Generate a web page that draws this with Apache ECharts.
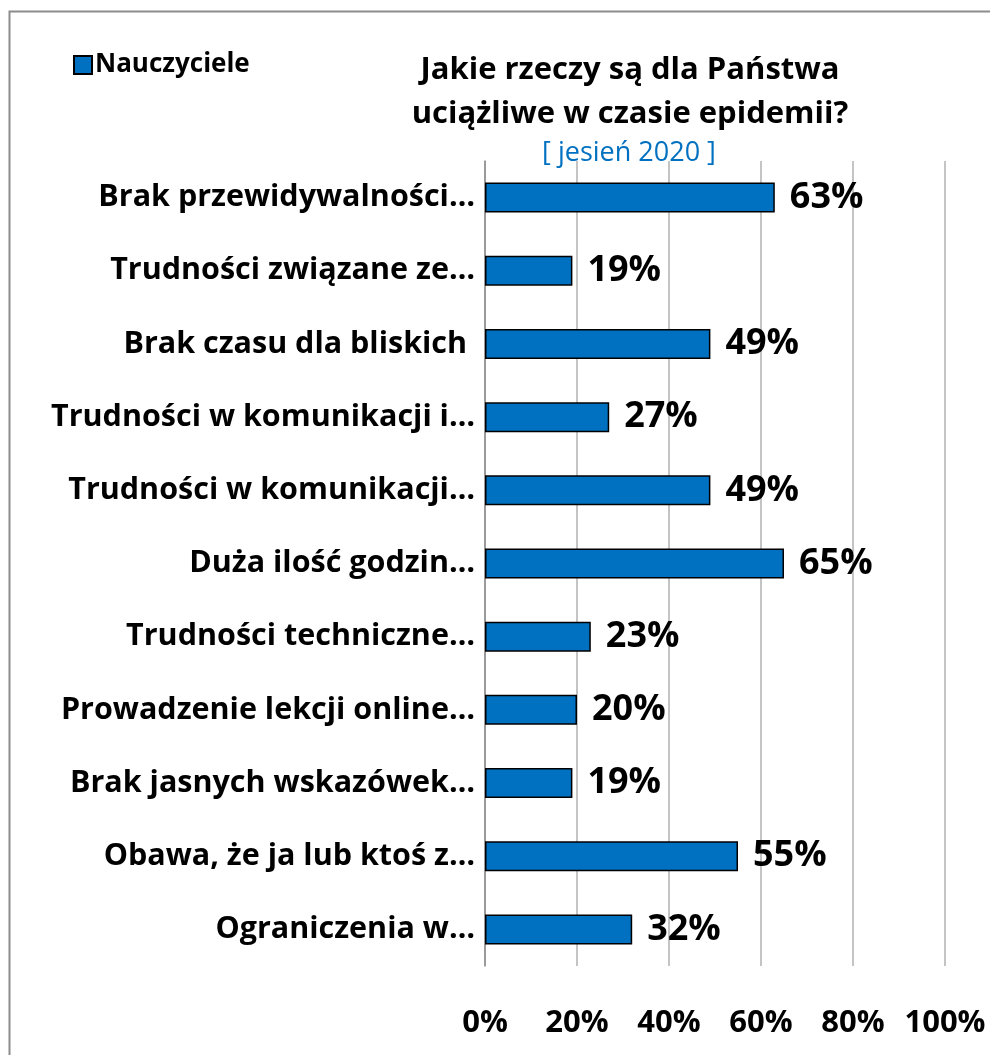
<!DOCTYPE html>
<html>
<head>
<meta charset="utf-8">
<script src="https://cdn.jsdelivr.net/npm/echarts@6/dist/echarts.min.js"></script>
<style>
  html, body { margin: 0; padding: 0; background: #fff; }
  #main { width: 990px; height: 1055px; }
</style>
</head>
<body>
<div id="main"></div>
<script>
// dane z wykresu (od góry do dołu)
var categories = [
  'Brak przewidywalności…',
  'Trudności związane ze…',
  'Brak czasu dla bliskich ',
  'Trudności w komunikacji i…',
  'Trudności w komunikacji…',
  'Duża ilość godzin…',
  'Trudności techniczne…',
  'Prowadzenie lekcji online…',
  'Brak jasnych wskazówek…',
  'Obawa, że ja lub ktoś z…',
  'Ograniczenia w…'
];
var nauczyciele = [63, 19, 49, 27, 49, 65, 23, 20, 19, 55, 32];
var seriesName = 'Nauczyciele';

var font = '"Open Sans", "Noto Sans", sans-serif';
var chart = echarts.init(document.getElementById('main'));

chart.setOption({
  backgroundColor: '#fff',
  animation: false,
  graphic: [{
    type: 'rect',
    shape: { x: 9.5, y: 11.5, width: 1000, height: 1100 },
    style: { fill: 'none', stroke: '#8c8c8c', lineWidth: 2 },
    silent: true
  }],
  title: [{
    text: 'Jakie rzeczy są dla Państwa\nuciążliwe w czasie epidemii?',
    left: 625, top: 43, textAlign: 'center',
    textStyle: { fontFamily: font, fontWeight: 'bold', fontSize: 31, lineHeight: 44, color: '#000' }
  }, {
    text: '[ jesień 2020 ]',
    left: 624, top: 135, textAlign: 'center',
    textStyle: { fontFamily: font, fontWeight: 'normal', fontSize: 27, color: '#0070C0' }
  }],
  legend: {
    left: 68, top: 47,
    itemWidth: 18, itemHeight: 18, itemGap: 6,
    icon: 'rect',
    textStyle: { fontFamily: font, fontWeight: 'bold', fontSize: 26, color: '#000', padding: [0, 0, 0, -2] },
    data: [seriesName]
  },
  grid: { left: 485, right: 45, top: 161, bottom: 89, containLabel: false },
  xAxis: {
    type: 'value', min: 0, max: 100, interval: 20,
    axisLine: { show: false },
    axisTick: { show: false },
    splitLine: { show: true, lineStyle: { color: '#b0b0b0', width: 1.5 } },
    axisLabel: {
      margin: 42,
      formatter: '{value}%',
      fontFamily: font, fontWeight: 'bold', fontSize: 31, color: '#000'
    }
  },
  yAxis: {
    type: 'category',
    inverse: true,
    data: categories,
    axisLine: { show: true, lineStyle: { color: '#8c8c8c', width: 1.5 } },
    axisTick: { show: false },
    axisLabel: {
      margin: 10,
      fontFamily: font, fontWeight: 'bold', fontSize: 30.5, color: '#000'
    }
  },
  series: [{
    name: seriesName,
    type: 'bar',
    data: nauczyciele,
    barWidth: 30,
    itemStyle: { color: '#0070C0', borderColor: '#000', borderWidth: 1.5 },
    label: {
      show: true, position: 'right', distance: 15,
      formatter: '{c}%',
      fontFamily: font, fontWeight: 'bold', fontSize: 36, color: '#000'
    }
  }]
});
</script>
</body>
</html>
